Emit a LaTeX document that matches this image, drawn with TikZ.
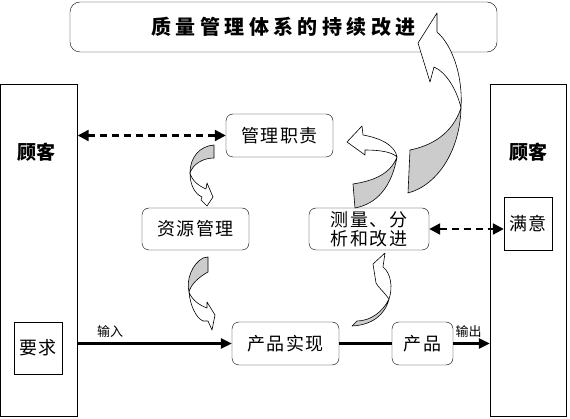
\documentclass[tikz,border=0pt]{standalone}
\usepackage{fontspec}
\setmainfont{Noto Sans CJK SC}
\newfontfamily\boxfont[LetterSpace=8]{Noto Sans CJK SC}
\newfontfamily\titlefont[LetterSpace=22]{Noto Sans CJK SC}
\usetikzlibrary{arrows.meta}
\definecolor{ribbongray}{RGB}{204,204,204}
\begin{document}
\begin{tikzpicture}[x=1pt,y=-1pt,
    stagebox/.style={draw,rounded corners=7pt,inner sep=0pt,align=center,
      font=\boxfont\fontsize{18}{19}\selectfont},
    custbox/.style={draw,inner sep=0pt,minimum width=77pt,minimum height=332pt},
    custname/.style={font=\bfseries\fontsize{19}{19}\selectfont},
    wishbox/.style={draw,inner sep=0pt,minimum width=48pt,minimum height=52pt,
      font=\boxfont\fontsize{18}{19}\selectfont},
    flowlabel/.style={inner sep=1pt,font=\fontsize{13}{13}\selectfont},
    dashlink/.style={dash pattern=on 7pt off 5pt,line width=2.2pt,
      {Triangle[length=11pt,width=11pt]}-{Triangle[length=11pt,width=11pt]}},
    flowline/.style={line width=2.4pt},
    ribbonback/.style={draw,line width=0.6pt,fill=ribbongray,line join=round},
    ribbonfront/.style={draw,line width=0.6pt,fill=white,line join=round}]
  \useasboundingbox (0,0) rectangle (570,419);

  % title
  \node[draw,rounded corners=10pt,minimum width=427pt,minimum height=50pt,
    font=\titlefont\bfseries\fontsize{20}{20}\selectfont] (title) at (283.5,27) {质量管理体系的持续改进};

  % customers on both sides
  \node[custbox] (custL) at (39,250) {};
  \node[custname] (custLname) at (36,152) {顾客};
  \node[wishbox] (require) at (38,348) {要求};
  \node[custbox,minimum width=76pt] (custR) at (528,250) {};
  \node[custname] (custRname) at (528,152) {顾客};
  \node[wishbox,minimum height=53pt] (satisfy) at (528,223.5) {满意};

  % the four processes and the product
  \node[stagebox,minimum width=107pt,minimum height=43pt] (mgmt) at (279.5,135.5) {管理职责};
  \node[stagebox,minimum width=107pt,minimum height=42pt] (resource) at (195.5,229) {资源管理};
  \node[stagebox,minimum width=120pt,minimum height=42pt] (measure) at (369,229) {测量、分\\析和改进};
  \node[stagebox,minimum width=107pt,minimum height=43pt] (realize) at (285.5,343.5) {产品实现};
  \node[stagebox,minimum width=61pt,minimum height=43pt] (product) at (422.5,343.5) {产品};

  % links
  \draw[dashlink] (mgmt.west -| custL.east) -- (mgmt.west);
  \draw[dashlink] (measure.east) -- (measure.east -| satisfy.west);
  \draw[flowline,-{Triangle[length=11pt,width=10pt]}] (realize.west -| custL.east)
    -- node[pos=0.21,above=4pt,flowlabel] (inlabel) {输入} (realize.west);
  \draw[flowline] (realize.east) -- (product.west);
  \draw[flowline,-{Triangle[length=11pt,width=10pt]}] (product.east)
    -- node[pos=0.42,above=4pt,flowlabel] (outlabel) {输出} (product.east -| custR.west);

  % curved arrows between the processes
  \draw[ribbonback] (214,145) .. controls (200,146) and (190,157) .. (190,173)
    .. controls (193,164) and (203,158) .. (214,158) -- cycle;
  \draw[ribbonfront] (190,173) .. controls (190,185) and (195,194) .. (202,197)
    -- (201,200) -- (207,206) -- (213,197) -- (207,183) -- (206,189)
    .. controls (199,186) and (192,181) .. (190,173) -- cycle;

  \draw[ribbonback] (203,258) -- (208,257) -- (208,272) .. controls (199,277) and (191,284) .. (189,292)
    .. controls (186,280) and (192,264) .. (203,258) -- cycle;
  \draw[ribbonfront] (189,292) .. controls (190,305) and (196,318) .. (203,321)
    -- (208,321) -- (212,330) -- (215,315) -- (207,302) -- (207,308)
    .. controls (199,305) and (192,300) .. (189,292) -- cycle;

  \draw[ribbonback] (352,326) -- (357,321) .. controls (370,321) and (383,312) .. (389,299)
    .. controls (385,315) and (372,325) .. (352,326) -- cycle;
  \draw[ribbonfront] (389,299) .. controls (384,292) and (378,287) .. (376,283)
    -- (373,264) -- (385,253) -- (383,267)
    .. controls (391,273) and (393,288) .. (389,299) -- cycle;

  \draw[ribbonback] (353,184) -- (355,208) .. controls (370,205) and (390,195) .. (397,157)
    .. controls (390,175) and (372,181) .. (353,184) -- cycle;
  \draw[ribbonfront] (397,157) .. controls (395,145) and (380,138) .. (363,135)
    -- (362,126) -- (347,142) -- (365,155) -- (365,150)
    .. controls (380,150) and (392,152) .. (397,157) -- cycle;

  % continual improvement
  \draw[ribbonback] (408,193) -- (410,150) .. controls (430,146) and (452,135) .. (461,108)
    .. controls (460,150) and (438,185) .. (408,193) -- cycle;
  \draw[ribbonfront] (461,108) .. controls (463,75) and (452,45) .. (437,32)
    -- (437,13) -- (418,43) -- (430,82) -- (434,67)
    .. controls (446,72) and (457,90) .. (461,108) -- cycle;
\end{tikzpicture}
\end{document}
